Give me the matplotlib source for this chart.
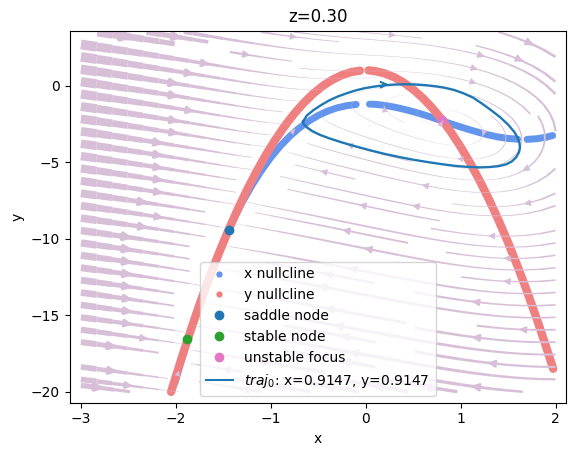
import numpy as np
import matplotlib
matplotlib.use("Agg")
import matplotlib.pyplot as plt
from matplotlib.lines import Line2D

nan = np.nan

# ---- model parameters for the background vector field (z fixed) ----
A_PAR, B_PAR, C_PAR, D_PAR = 1.0, 2.5, 1.0, 5.0
I_EXT = 1.5
Z_VAL = 0.30

# ---- x nullcline (gaps kept) ----
x_null_x = [-2.01, -1.95, -1.9, -1.85, -1.8, -1.75, -1.7, -1.65, -1.6, -1.5, -1.4,
            -1.3, -1.2, -1.1, -1.0, -0.9, -0.8, -0.7, -0.6, -0.5, -0.4, -0.3,
            -0.2, -0.1, nan, 0.04, 0.1, 0.2, 0.3, 0.4, 0.5, 0.6, 0.7, 0.8, 0.9,
            1.0, 1.1, 1.2, 1.3, 1.4, 1.5, 1.6, nan, 1.7, 1.8, 1.9, 1.97]
x_null_y = [-19.42, -18.12, -17.08, -16.09, -15.13, -14.22, -13.34, -12.50, -11.70,
            -10.20, -8.84, -7.62, -6.53, -5.56, -4.70, -3.95, -3.31, -2.77, -2.32,
            -1.95, -1.66, -1.45, -1.31, -1.23, nan, -1.21, -1.22, -1.29, -1.40,
            -1.54, -1.70, -1.88, -2.08, -2.29, -2.50, -2.70, -2.89, -3.07, -3.23,
            -3.36, -3.45, -3.50, nan, -3.51, -3.47, -3.37, -3.26]

# ---- y nullcline ----
y_null_x = [-2.05, -1.95, -1.85, -1.75, -1.65, -1.55, -1.45, -1.35, -1.25, -1.15,
            -1.05, -0.95, -0.85, -0.75, -0.65, -0.55, -0.45, -0.35, -0.25, -0.15,
            -0.06, nan, 0.03, 0.1, 0.2, 0.3, 0.4, 0.5, 0.6, 0.7, 0.8, 0.9, 1.0,
            1.1, 1.2, 1.3, 1.4, 1.5, 1.6, 1.7, 1.8, 1.9, 1.975]
y_null_y = [-20.01, -18.01, -16.11, -14.31, -12.61, -11.01, -9.51, -8.11, -6.81,
            -5.61, -4.51, -3.51, -2.61, -1.81, -1.11, -0.51, -0.01, 0.39, 0.69,
            0.89, 0.98, nan, 1.00, 0.95, 0.80, 0.55, 0.20, -0.25, -0.80, -1.45,
            -2.20, -3.05, -4.00, -5.05, -6.20, -7.45, -8.80, -10.25, -11.80,
            -13.45, -15.20, -17.05, -18.50]

# ---- fixed points ----
saddle_x, saddle_y = [-1.445], [-9.40]
stable_x, stable_y = [-1.88], [-16.55]
focus_x, focus_y = [0.80], [-2.25]

# ---- trajectory (limit cycle) ----
traj_x = [-0.66, -0.62, -0.55, -0.47, -0.38, -0.29, -0.20, -0.11, -0.02, 0.08,
          0.19, 0.30, 0.40, 0.51, 0.61, 0.72, 0.82, 0.93, 1.03, 1.13, 1.22,
          1.32, 1.42, 1.50, 1.565, 1.60, 1.62, 1.625, 1.615, 1.585, 1.54, 1.48,
          1.40, 1.30, 1.20, 1.10, 0.95, 0.80, 0.65, 0.50, 0.35, 0.20, 0.05,
          -0.10, -0.25, -0.38, -0.48, -0.56, -0.62, -0.655, -0.66]
traj_y = [-2.35, -1.95, -1.60, -1.27, -0.95, -0.70, -0.50, -0.32, -0.18, -0.07,
          0.02, 0.07, 0.09, 0.08, 0.04, -0.03, -0.12, -0.28, -0.50, -0.78, -1.15,
          -1.60, -2.08, -2.55, -3.02, -3.40, -3.75, -4.05, -4.35, -4.68, -4.95,
          -5.14, -5.26, -5.32, -5.34, -5.32, -5.25, -5.13, -4.99, -4.84, -4.66,
          -4.46, -4.23, -3.98, -3.71, -3.45, -3.22, -2.98, -2.72, -2.50, -2.35]

traj_label = r"$traj_0$: x=0.9147, y=0.9147"

fig = plt.figure(figsize=(5.74, 4.53), dpi=100)
ax = fig.add_axes([69.5 / 574, (453 - 402.6) / 453, 496.5 / 574, 371.9 / 453])

# nullclines and fixed points first (stream lines are drawn over them)
ax.plot(x_null_x, x_null_y, color='cornflowerblue', lw=5, solid_capstyle='round',
        solid_joinstyle='round', zorder=1)
ax.plot(y_null_x, y_null_y, color='lightcoral', lw=6, solid_capstyle='round',
        solid_joinstyle='round', zorder=1)
ax.scatter(saddle_x, saddle_y, color='tab:blue', s=36, zorder=1)
ax.scatter(stable_x, stable_y, color='tab:green', s=36, zorder=1)
ax.scatter(focus_x, focus_y, color='tab:pink', s=36, zorder=1)

# background vector field
gx = np.linspace(-3, 2, 100)
gy = np.linspace(-20, 3.5, 100)
X, Y = np.meshgrid(gx, gy)
U = Y - A_PAR * X ** 3 + B_PAR * X ** 2 - Z_VAL + I_EXT
V = C_PAR - D_PAR * X ** 2 - Y
speed = np.hypot(U, V)
ax.streamplot(X, Y, U, V, color='thistle', linewidth=7.2 * speed / speed.max(),
              density=1, arrowsize=1.0, zorder=1)

# trajectory
ax.plot(traj_x, traj_y, color='tab:blue', lw=1.7, zorder=2)
ax.annotate('', xy=(0.27, 0.09), xytext=(0.16, 0.06),
            arrowprops=dict(arrowstyle='->', color='tab:blue', lw=1.5))

ax.set_xlim(-3.12, 2.11)
ax.set_ylim(-20.71, 3.59)
ax.set_xticks([-3, -2, -1, 0, 1, 2])
ax.set_yticks([-20, -15, -10, -5, 0])
ax.set_xlabel('x')
ax.set_ylabel('y')
ax.set_title('z=0.30')

handles = [
    Line2D([], [], ls='', marker='o', ms=3.5, color='cornflowerblue', label='x nullcline'),
    Line2D([], [], ls='', marker='o', ms=3.5, color='lightcoral', label='y nullcline'),
    Line2D([], [], ls='', marker='o', ms=6, color='tab:blue', label='saddle node'),
    Line2D([], [], ls='', marker='o', ms=6, color='tab:green', label='stable node'),
    Line2D([], [], ls='', marker='o', ms=6, color='tab:pink', label='unstable focus'),
    Line2D([], [], color='tab:blue', lw=1.5, label=traj_label),
]
ax.legend(handles=handles, loc='lower center')

fig.savefig('out.png', dpi=100)
